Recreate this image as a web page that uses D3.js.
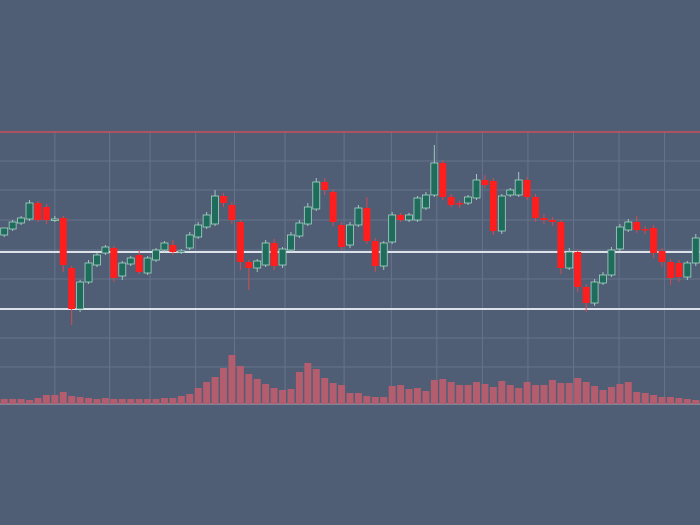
<!DOCTYPE html>
<html><head><meta charset="utf-8">
<script src="https://cdn.jsdelivr.net/npm/d3@7"></script>
<style>body{margin:0;background:#4f5e75}svg{display:block}</style>
</head><body>
<svg id="chart" width="700" height="525"></svg>
<script>
// candles: [open, high, low, close]
const candles = [
  [165,168,163,172],[171,180,169,178],[177,184,175,182],[181,200,179,197],[197,199,178,180],
  [193,196,176,180],[180,184,178,181],[182,184,128,135],[132,134,75,91],[91,120,88,118],
  [118,140,116,137],[135,147,133,145],[147,155,145,153],[152,154,118,122],[124,139,120,137],
  [136,144,134,142],[145,150,126,128],[127,144,125,142],[140,152,138,150],[150,159,148,157],
  [155,160,145,148],[148,151,146,149],[152,168,150,165],[163,178,161,175],[173,188,171,185],
  [176,210,174,204],[204,207,193,197],[195,198,176,180],[178,180,130,138],[138,140,110,132],
  [132,141,128,139],[135,160,133,157],[157,161,130,134],[135,153,132,151],[150,168,148,165],
  [164,180,162,177],[176,197,174,193],[191,222,189,218],[218,222,205,210],[208,211,174,178],
  [175,178,150,153],[155,178,152,175],[175,195,173,192],[192,203,156,159],[159,162,128,134],
  [134,159,130,157],[158,188,156,185],[185,187,178,180],[180,187,178,185],[180,204,178,202],
  [192,208,190,205],[205,255,203,237],[237,240,200,203],[203,206,193,195],[197,199,192,196],
  [197,205,195,203],[202,226,200,220],[220,225,212,215],[219,222,165,169],[169,206,166,204],
  [205,212,203,210],[205,228,203,220],[220,223,200,203],[203,206,178,182],[182,186,176,180],
  [180,183,174,178],[178,180,126,132],[132,152,130,148],[148,151,108,113],[113,116,88,97],
  [97,121,94,118],[117,128,115,125],[125,153,123,150],[151,176,149,173],[170,181,168,178],
  [178,184,167,170],[171,174,166,170],[172,175,142,147],[149,152,133,138],[138,141,115,122],
  [137,140,118,123],[123,139,120,137],[137,166,134,162]
];
const volumes = [5,5,5,4,6,9,9,12,8,7,6,5,6,5,5,5,5,5,5,6,6,8,10,16,22,27,36,49,38,30,25,20,16,14,15,32,41,35,26,21,19,11,11,8,7,7,18,19,15,16,13,24,25,22,19,19,22,20,17,23,19,16,22,19,19,24,21,21,26,22,18,14,17,20,22,12,11,9,7,7,6,5,4];
const priceTicks = [268,239,210,180,150,121,91,62,33];
const timeTicks = [6,12.5,17.3,22.7,27.3,33.3,40.3,45.9,51.3,56.7,62.1,67.5,72.9,78.3,83.7];
const redLevel = 268;
const whiteLevels = [148,91];

const svg = d3.select("#chart");
const W = 700;
const x = d3.scaleLinear().domain([-0.5, candles.length - 0.5]).range([0, 700]);
const y = d3.scaleLinear().domain([0, 300]).range([400, 100]);
const v = d3.scaleLinear().domain([0, 60]).range([404, 344]);
const bw = 7;

svg.append("rect").attr("width", W).attr("height", 525).attr("fill", "#4f5e75");

// grid
svg.append("g").selectAll("line").data(priceTicks.slice(1)).join("line")
  .attr("x1", 0).attr("x2", W).attr("y1", d => y(d)).attr("y2", d => y(d))
  .attr("stroke", "#66758b").attr("stroke-width", 1);
svg.append("line").attr("x1", 0).attr("x2", W).attr("y1", v(0)).attr("y2", v(0))
  .attr("stroke", "#8b93a4").attr("stroke-width", 1.5);
svg.append("g").selectAll("line").data(timeTicks).join("line")
  .attr("x1", d => x(d)).attr("x2", d => x(d)).attr("y1", y(redLevel)).attr("y2", v(0))
  .attr("stroke", "#66758b").attr("stroke-width", 1);

// levels
svg.append("line").attr("x1", 0).attr("x2", W).attr("y1", y(redLevel)).attr("y2", y(redLevel))
  .attr("stroke", "#c8505e").attr("stroke-width", 1.5);
svg.append("g").selectAll("line").data(whiteLevels).join("line")
  .attr("x1", 0).attr("x2", W).attr("y1", d => y(d)).attr("y2", d => y(d))
  .attr("stroke", "#dde2ea").attr("stroke-width", 2);

// volume
svg.append("g").selectAll("rect").data(volumes).join("rect")
  .attr("x", (d, i) => x(i) - 3.5).attr("width", 7)
  .attr("y", d => v(d)).attr("height", d => v(0) - v(d))
  .attr("fill", "#b35d6e");

// candles
const g = svg.append("g").selectAll("g").data(candles).join("g");
const up = d => d[3] >= d[0];
g.append("line")
  .attr("x1", (d, i) => x(i)).attr("x2", (d, i) => x(i))
  .attr("y1", d => y(d[1])).attr("y2", d => y(d[2]))
  .attr("stroke", d => up(d) ? "#9cc9bc" : "#d44a55").attr("stroke-width", 1);
g.append("rect")
  .attr("x", (d, i) => x(i) - bw / 2).attr("width", bw)
  .attr("y", d => y(Math.max(d[0], d[3])))
  .attr("height", d => Math.max(1.5, Math.abs(y(d[0]) - y(d[3]))))
  .attr("fill", d => up(d) ? "#1f6b5c" : "#ff1e1e")
  .attr("stroke", d => up(d) ? "#a8d4c6" : "none").attr("stroke-width", 0.8);
</script>
</body></html>
